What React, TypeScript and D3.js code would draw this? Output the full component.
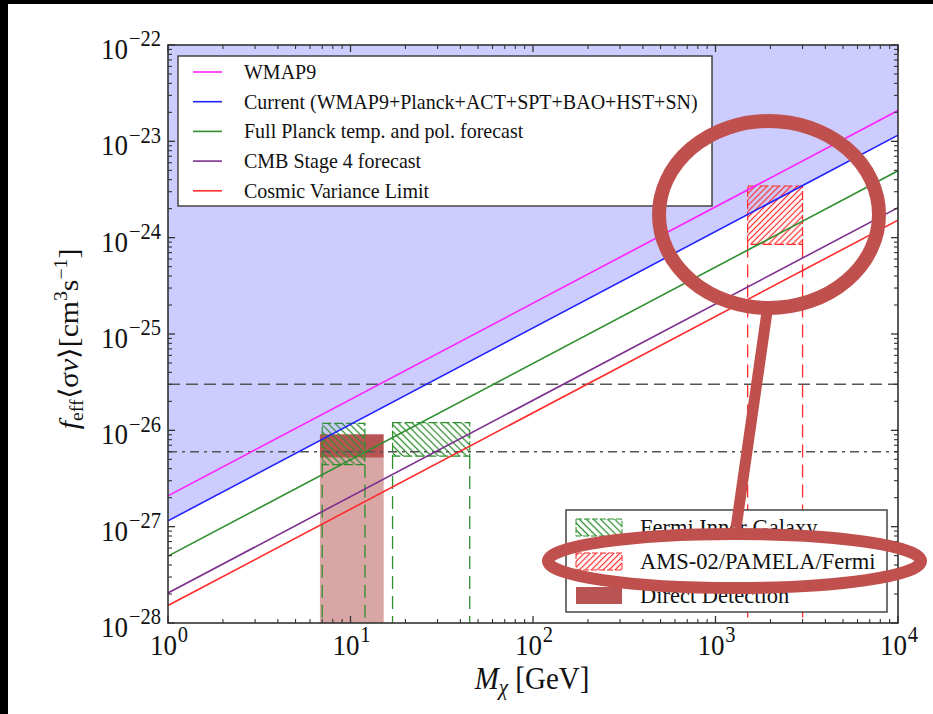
import React from 'react';
import * as d3 from 'd3';

const W = 933;
const H = 714;
const FONT = '"Liberation Serif", "Times New Roman", serif';

// Axis domains
const massDomain: [number, number] = [1, 1e4];
const sigmaDomain: [number, number] = [1e-28, 1e-22];
const xExps = [0, 1, 2, 3, 4];
const yExps = [-28, -27, -26, -25, -24, -23, -22];

// CMB bounds: <σv> at M = 1 GeV and at M = 10^4 GeV (straight lines in log-log)
const cmbNames = [
  'WMAP9',
  'Current (WMAP9+Planck+ACT+SPT+BAO+HST+SN)',
  'Full Planck temp. and pol. forecast',
  'CMB Stage 4 forecast',
  'Cosmic Variance Limit',
];
const cmbColors = ['#ff22ff', '#2222ff', '#2f8f2f', '#7d2f8e', '#ff2b2b'];
const cmbAtLow = [2.09e-27, 1.15e-27, 4.95e-28, 2.05e-28, 1.52e-28];
const cmbAtHigh = [2.09e-23, 1.16e-23, 4.95e-24, 2.05e-24, 1.52e-24];

// Reference cross sections
const thermalDashed = 3e-26;
const thermalDashDot = 6e-27;

// Signal regions
const fermiMass = [
  [7, 12],
  [17, 45],
];
const fermiSigma = [
  [4.4e-27, 1.18e-26],
  [5.4e-27, 1.2e-26],
];
const amsMass = [1500, 3000];
const amsSigma = [8.5e-25, 3.44e-24];
const ddMass = [6.8, 15.2];
const ddSigma = [5.2e-27, 9.1e-27];

const bottomLegend = ['Fermi Inner Galaxy', 'AMS-02/PAMELA/Fermi', 'Direct Detection'];

const L = 168, R = 898, T = 45, B = 623;
const x = d3.scaleLog().domain(massDomain).range([L, R]);
const y = d3.scaleLog().domain(sigmaDomain).range([B, T]);

const pathOf = d3
  .line<[number, number]>()
  .x((d) => x(d[0]))
  .y((d) => y(d[1]));

function sup(e: number) {
  return e < 0 ? '\u2212' + String(-e) : String(e);
}

function Pow({ px, py, exp, anchor }: { px: number; py: number; exp: number; anchor: string }) {
  return (
    <g transform={`translate(${px},${py}) scale(1,1.1)`}>
      <text textAnchor={anchor as any} fontFamily={FONT} fontSize={27} fill="#111">
        10
        <tspan dy={-11.5} fontSize={20.5} dx={1}>
          {sup(exp)}
        </tspan>
      </text>
    </g>
  );
}

export default function App() {
  const blue = 1;
  const excluded =
    pathOf([
      [massDomain[0], cmbAtLow[blue]],
      [massDomain[1], cmbAtHigh[blue]],
      [massDomain[1], sigmaDomain[1]],
      [massDomain[0], sigmaDomain[1]],
    ]) + 'Z';

  // tick marks (inward, all four sides)
  const ticks: JSX.Element[] = [];
  const frame = '#333';
  yExps.forEach((e, i) => {
    const v = Math.pow(10, e);
    ticks.push(<line key={`yl${e}`} x1={L} x2={L + 7} y1={y(v)} y2={y(v)} stroke={frame} strokeWidth={1.3} />);
    ticks.push(<line key={`yr${e}`} x1={R} x2={R - 7} y1={y(v)} y2={y(v)} stroke={frame} strokeWidth={1.3} />);
    if (i < yExps.length - 1) {
      for (let k = 2; k <= 9; k++) {
        const m = k * v;
        ticks.push(<line key={`ylm${e}${k}`} x1={L} x2={L + 4} y1={y(m)} y2={y(m)} stroke={frame} strokeWidth={1.1} />);
        ticks.push(<line key={`yrm${e}${k}`} x1={R} x2={R - 4} y1={y(m)} y2={y(m)} stroke={frame} strokeWidth={1.1} />);
      }
    }
  });
  xExps.forEach((e, i) => {
    const v = Math.pow(10, e);
    ticks.push(<line key={`xb${e}`} y1={B} y2={B - 7} x1={x(v)} x2={x(v)} stroke={frame} strokeWidth={1.3} />);
    ticks.push(<line key={`xt${e}`} y1={T} y2={T + 7} x1={x(v)} x2={x(v)} stroke={frame} strokeWidth={1.3} />);
    if (i < xExps.length - 1) {
      for (let k = 2; k <= 9; k++) {
        const m = k * v;
        ticks.push(<line key={`xbm${e}${k}`} y1={B} y2={B - 4} x1={x(m)} x2={x(m)} stroke={frame} strokeWidth={1.1} />);
        ticks.push(<line key={`xtm${e}${k}`} y1={T} y2={T + 4} x1={x(m)} x2={x(m)} stroke={frame} strokeWidth={1.1} />);
      }
    }
  });

  const green = '#2f8f2f';
  const red = '#ff2b2b';
  const ddDark = '#b85454';
  const ddLight = '#d9a6a6';
  const annot = '#c0504d';

  return (
    <svg width={W} height={H} style={{ position: 'absolute', left: 0, top: 0, background: '#fff' }}>
      <defs>
        <clipPath id="plotClip">
          <rect x={L} y={T} width={R - L} height={B - T} />
        </clipPath>
        <pattern id="hatchG" width={5} height={5} patternUnits="userSpaceOnUse" patternTransform="rotate(-45)">
          <line x1={2.5} y1={0} x2={2.5} y2={5} stroke={green} strokeWidth={1.3} />
        </pattern>
        <pattern id="hatchR" width={4.2} height={4.2} patternUnits="userSpaceOnUse" patternTransform="rotate(45)">
          <line x1={2.1} y1={0} x2={2.1} y2={4.2} stroke={red} strokeWidth={1.2} />
        </pattern>
      </defs>

      <rect x={0} y={0} width={W} height={H} fill="#fff" />
      <rect x={0} y={0} width={8} height={H} fill="#000" />
      <rect x={0} y={0} width={W} height={4} fill="#000" />

      <g clipPath="url(#plotClip)">
        <path d={excluded} fill="#ccccff" />

        {/* direct detection band */}
        <rect
          x={x(ddMass[0])}
          width={x(ddMass[1]) - x(ddMass[0])}
          y={y(ddSigma[0])}
          height={y(sigmaDomain[0]) - y(ddSigma[0])}
          fill={ddLight}
        />
        <rect
          x={x(ddMass[0])}
          width={x(ddMass[1]) - x(ddMass[0])}
          y={y(ddSigma[1])}
          height={y(ddSigma[0]) - y(ddSigma[1])}
          fill={ddDark}
        />

        {/* Fermi inner galaxy boxes */}
        {fermiMass.map((m, i) => (
          <g key={`f${i}`}>
            <rect
              x={x(m[0])}
              width={x(m[1]) - x(m[0])}
              y={y(fermiSigma[i][1])}
              height={y(fermiSigma[i][0]) - y(fermiSigma[i][1])}
              fill="url(#hatchG)"
              stroke={green}
              strokeWidth={1.2}
              strokeDasharray="9,3"
            />
            {m.map((mm, j) => (
              <line
                key={j}
                x1={x(mm)}
                x2={x(mm)}
                y1={y(fermiSigma[i][0])}
                y2={B}
                stroke={green}
                strokeWidth={1.3}
                strokeDasharray="13,7"
              />
            ))}
          </g>
        ))}

        {/* AMS-02 / PAMELA / Fermi box */}
        <rect
          x={x(amsMass[0])}
          width={x(amsMass[1]) - x(amsMass[0])}
          y={y(amsSigma[1])}
          height={y(amsSigma[0]) - y(amsSigma[1])}
          fill="url(#hatchR)"
          stroke={red}
          strokeWidth={1.2}
          strokeDasharray="9,3"
        />
        {amsMass.map((mm, j) => (
          <line
            key={`a${j}`}
            x1={x(mm)}
            x2={x(mm)}
            y1={y(amsSigma[0])}
            y2={B}
            stroke={red}
            strokeWidth={1.3}
            strokeDasharray="13,7"
          />
        ))}

        {/* reference cross sections */}
        <line x1={L} x2={R} y1={y(thermalDashed)} y2={y(thermalDashed)} stroke="#555" strokeWidth={1.5} strokeDasharray="12,6" />
        <line x1={L} x2={R} y1={y(thermalDashDot)} y2={y(thermalDashDot)} stroke="#555" strokeWidth={1.5} strokeDasharray="9,5,3,5" />

        {/* CMB bounds */}
        {cmbNames.map((n, i) => (
          <path
            key={n}
            d={pathOf([
              [massDomain[0], cmbAtLow[i]],
              [massDomain[1], cmbAtHigh[i]],
            ]) || ''}
            stroke={cmbColors[i]}
            strokeWidth={1.6}
            fill="none"
          />
        ))}
      </g>

      {/* frame */}
      <rect x={L} y={T} width={R - L} height={B - T} fill="none" stroke={frame} strokeWidth={1.6} />
      {ticks}

      {/* tick labels */}
      {yExps.map((e) => (
        <Pow key={`yt${e}`} px={161} py={y(Math.pow(10, e)) + 14} exp={e} anchor="end" />
      ))}
      {xExps.map((e) => (
        <Pow key={`xt${e}`} px={x(Math.pow(10, e)) + 1} py={655} exp={e} anchor="middle" />
      ))}

      {/* axis titles */}
      <g transform="translate(532,689) scale(1,1.1)">
        <text textAnchor="middle" fontFamily={FONT} fontSize={29} fill="#111">
          <tspan fontStyle="italic">M</tspan>
          <tspan fontStyle="italic" fontSize={21} dy={5}>
            χ
          </tspan>
          <tspan dy={-5}> [GeV]</tspan>
        </text>
      </g>
      <g transform="translate(78,339) rotate(-90) scale(1.1,1)">
        <text textAnchor="middle" fontFamily={FONT} fontSize={27} fill="#111">
          <tspan fontStyle="italic">f</tspan>
          <tspan fontSize={18} dy={5}>
            eff
          </tspan>
          <tspan dy={-5}>⟨σ</tspan>
          <tspan fontStyle="italic">ν</tspan>
          <tspan>⟩[cm</tspan>
          <tspan fontSize={18} dy={-11}>
            3
          </tspan>
          <tspan dy={11}>s</tspan>
          <tspan fontSize={18} dy={-11}>
            −1
          </tspan>
          <tspan dy={11}>]</tspan>
        </text>
      </g>

      {/* CMB legend */}
      <rect x={178} y={56} width={534} height={150} fill="#fff" stroke="#444" strokeWidth={1.5} />
      {cmbNames.map((n, i) => {
        const cy = 72 + i * 29.7;
        return (
          <g key={`lg${i}`}>
            <line x1={193} x2={222} y1={cy} y2={cy} stroke={cmbColors[i]} strokeWidth={1.6} />
            <g transform={`translate(244,${cy + 7}) scale(1,1.07)`}>
              <text fontFamily={FONT} fontSize={20} fill="#111">
                {n}
              </text>
            </g>
          </g>
        );
      })}

      {/* signal legend */}
      <rect x={566} y={510} width={321} height={102} fill="#fff" stroke="#444" strokeWidth={1.5} />
      {bottomLegend.map((n, i) => {
        const base = 535 + i * 34;
        const fill = i === 0 ? 'url(#hatchG)' : i === 1 ? 'url(#hatchR)' : ddDark;
        const stroke = i === 0 ? green : i === 1 ? red : 'none';
        return (
          <g key={`bl${i}`}>
            <rect x={576} y={base - 16} width={46} height={17} fill={fill} stroke={stroke} strokeWidth={1} strokeDasharray={i < 2 ? '6,2' : undefined} />
            <g transform={`translate(640,${base}) scale(1,1.07)`}>
              <text fontFamily={FONT} fontSize={22.5} fill="#111">
                {n}
              </text>
            </g>
          </g>
        );
      })}

      {/* highlight annotations */}
      <ellipse cx={769} cy={214.5} rx={110} ry={93.5} fill="none" stroke={annot} strokeWidth={14} />
      <line x1={767} y1={312} x2={736} y2={528} stroke={annot} strokeWidth={11} />
      <ellipse cx={734.5} cy={561} rx={186.5} ry={27} fill="none" stroke={annot} strokeWidth={12} />
    </svg>
  );
}
